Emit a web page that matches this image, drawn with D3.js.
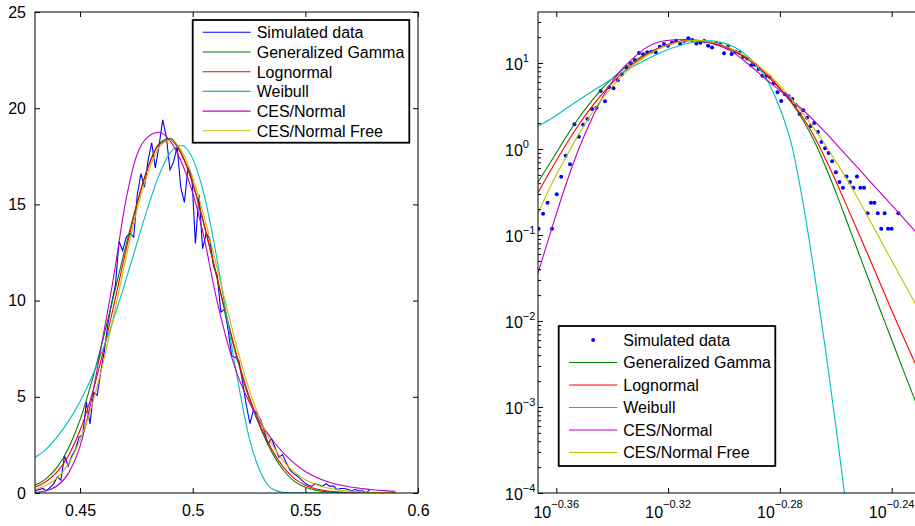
<!DOCTYPE html>
<html>
<head>
<meta charset="utf-8">
<script src="https://cdn.jsdelivr.net/npm/d3@7"></script>
<style>
body { margin: 0; background: #fff; }
svg text { font-family: "Liberation Sans", Arial, Helvetica, sans-serif; }
</style>
</head>
<body>
<svg width="915" height="526"></svg>
<script>
var width = 915;
var height = 526;

// histogram of the simulated sample: bin centres and density
var binX = [0.4302,0.4318,0.4334,0.4350,0.4367,0.4383,0.4399,0.4415,0.4431,0.4447,
    0.4463,0.4479,0.4496,0.4512,0.4528,0.4544,0.4560,0.4576,0.4592,0.4608,
    0.4625,0.4641,0.4657,0.4673,0.4689,0.4705,0.4721,0.4738,0.4754,0.4770,
    0.4786,0.4802,0.4818,0.4834,0.4850,0.4867,0.4883,0.4899,0.4915,0.4931,
    0.4947,0.4963,0.4979,0.4996,0.5012,0.5028,0.5044,0.5060,0.5076,0.5092,
    0.5109,0.5125,0.5141,0.5157,0.5173,0.5189,0.5205,0.5221,0.5238,0.5254,
    0.5270,0.5286,0.5302,0.5318,0.5334,0.5350,0.5367,0.5383,0.5399,0.5415,
    0.5431,0.5447,0.5463,0.5479,0.5496,0.5512,0.5528,0.5544,0.5560,0.5576,
    0.5592,0.5608,0.5625,0.5641,0.5657,0.5673,0.5689,0.5705,0.5721,0.5737,
    0.5754,0.5770,0.5786];
var simData = [0.118,0.177,0.237,0.118,0.297,0.476,0.836,0.664,1.94,1.39,
    1.92,2.23,2.92,3.02,4.72,3.59,5.22,5.08,6.3,7.4,
    8.91,9.92,10.8,13.07,12.6,13.3,13.5,13.3,15.5,16.6,
    15.9,17.3,18.2,16.9,18.0,19.4,18.5,16.8,17.2,18.0,
    15.9,15.1,16.9,16.5,12.97,15.5,12.7,13.5,13.2,11.8,
    11.3,9.4,9.55,8.5,7.12,7.06,6.87,5.8,4.56,3.61,
    4.33,4.13,3.81,3.22,2.55,2.82,2.31,1.85,2.0,1.58,
    1.21,1.02,0.899,0.72,0.536,0.413,0.355,0.48,0.413,0.355,
    0.48,0.355,0.355,0.179,0.237,0.237,0.179,0.118,0.179,0.118,
    0.118,0,0.179];

var fitX = [0.43,0.435,0.44,0.445,0.45,0.455,0.46,0.465,0.47,0.475,0.48,0.485,0.49,0.495,0.5,
    0.505,0.51,0.515,0.52,0.525,0.53,0.535,0.54,0.545,0.55,0.555,0.56,0.565,0.57,0.575,0.58,0.585,0.59];
var genGamma = [0.41,0.75,1.37,2.37,3.80,5.71,7.9,10.3,12.7,14.95,16.9,18.15,18.42,17.65,16.1,
    13.95,11.55,9.1,6.85,4.92,3.40,2.15,1.22,0.617,0.295,0.135,0.0617,0.0288,0.0135,0.00646,0.00309,0.00151,0.00074];
var lognormal = [0.31,0.60,1.12,1.98,3.26,5.01,7.22,9.77,12.43,14.9,16.86,18.1,18.35,17.6,16.1,
    14.0,11.62,9.2,6.97,5.05,3.51,2.29,1.38,0.76,0.40,0.204,0.105,0.0537,0.0275,0.0141,0.0074,0.00398,0.00214];
var weibull = [1.85,2.28,2.94,3.76,4.76,5.98,7.42,9.08,10.93,12.89,14.81,16.5,17.68,18.06,17.38,
    15.53,12.67,9.23,5.84,2.9,1.1,0.23,0.035,0.0045,5.0e-4,5.0e-5,5e-6,4e-7,2.5e-8,1.3e-9,5e-11,2e-12,6e-14];
var cesNormal = [0.036,0.122,0.387,1.06,2.44,4.83,8.0,11.3,15.0,17.5,18.5,18.75,18.3,17.2,15.6,
    13.3,10.4,8.0,6.1,4.75,3.67,2.82,2.11,1.55,1.12,0.81,0.59,0.427,0.313,0.229,0.168,0.123,0.090];
var cesNormalFree = [0.179,0.40,0.80,1.55,2.75,4.45,6.65,9.25,12.0,14.6,16.6,17.95,18.35,17.8,16.4,
    14.4,12.1,9.7,7.4,5.4,3.80,2.57,1.70,1.10,0.69,0.427,0.257,0.151,0.089,0.0525,0.0316,0.019,0.0115];

var seriesNames = ["Simulated data", "Generalized Gamma", "Lognormal", "Weibull", "CES/Normal", "CES/Normal Free"];
var seriesColors = ["#0000ff", "#008000", "#ff0000", "#00bfbf", "#bf00bf", "#bfbf00"];
var fits = [genGamma, lognormal, weibull, cesNormal, cesNormalFree];

// tick values and labels
var leftXTicks = [0.45, 0.5, 0.55, 0.6];
var leftXLabels = ["0.45", "0.5", "0.55", "0.6"];
var leftYTicks = [0, 5, 10, 15, 20, 25];
var rightXExps = [-0.36, -0.32, -0.28, -0.24];
var rightXLabels = ["\u22120.36", "\u22120.32", "\u22120.28", "\u22120.24"];
var rightYExps = [-4, -3, -2, -1, 0, 1];
var rightYLabels = ["\u22124", "\u22123", "\u22122", "\u22121", "0", "1"];

var svg = d3.select('svg');

// scales for both panels
var xL = d3.scaleLinear().domain([0.43, 0.6]).range([35, 418]);
var yL = d3.scaleLinear().domain([0, 25]).range([493, 12]);
var xR = d3.scaleLog().domain([0.43, 0.6]).range([538, 942.4]);
var yR = d3.scaleLog().domain([1e-4, Math.pow(10, 1.593)]).range([493, 12]);

var defs = svg.append("defs");
defs.append("clipPath").attr("id", "clip-left")
    .append("rect").attr("x", 35).attr("y", 12).attr("width", 383).attr("height", 481);
defs.append("clipPath").attr("id", "clip-right")
    .append("rect").attr("x", 538).attr("y", 12).attr("width", 405).attr("height", 481);

// ---------- left panel (linear) ----------
var plotL = svg.append("g").attr("clip-path", "url(#clip-left)");

var simLine = d3.line()
    .x(function(d) { return xL(d[0]); })
    .y(function(d) { return yL(d[1]); });
plotL.append("path")
    .datum(d3.zip(binX, simData))
    .attr("d", simLine)
    .attr("fill", "none")
    .attr("stroke", seriesColors[0])
    .attr("stroke-width", 1.1);

var fitLineL = d3.line()
    .curve(d3.curveMonotoneX)
    .x(function(d) { return xL(d[0]); })
    .y(function(d) { return yL(d[1]); });
plotL.selectAll(".fitL")
    .data(fits)
    .enter()
    .append("path")
    .attr("class", "fitL")
    .attr("d", function(f) { return fitLineL(d3.zip(fitX, f)); })
    .attr("fill", "none")
    .attr("stroke", function(f, i) { return seriesColors[i + 1]; })
    .attr("stroke-width", 1.1);

svg.append("rect")
    .attr("x", 35).attr("y", 12).attr("width", 383).attr("height", 481)
    .attr("fill", "none").attr("stroke", "#000").attr("stroke-width", 1);

// ticks point inwards on all four sides
function styleAxis(g) {
    g.select(".domain").remove();
    g.attr("font-size", 16).attr("font-family", "Liberation Sans, Arial, sans-serif");
    g.selectAll("text").attr("fill", "#000");
}
svg.append("g").attr("transform", "translate(0,493)")
    .call(d3.axisBottom(xL).tickValues(leftXTicks)
        .tickFormat(function(d, i) { return leftXLabels[i]; })
        .tickSize(-5).tickSizeOuter(0).tickPadding(12))
    .call(styleAxis);
svg.append("g").attr("transform", "translate(0,12)")
    .call(d3.axisTop(xL).tickValues(leftXTicks).tickFormat("").tickSize(-5).tickSizeOuter(0))
    .call(styleAxis);
svg.append("g").attr("transform", "translate(35,0)")
    .call(d3.axisLeft(yL).tickValues(leftYTicks).tickFormat(d3.format("d"))
        .tickSize(-5).tickSizeOuter(0).tickPadding(9))
    .call(styleAxis);
svg.append("g").attr("transform", "translate(418,0)")
    .call(d3.axisRight(yL).tickValues(leftYTicks).tickFormat("").tickSize(-5).tickSizeOuter(0))
    .call(styleAxis);

// ---------- right panel (log-log) ----------
var plotR = svg.append("g").attr("clip-path", "url(#clip-right)");

plotR.selectAll(".sim-dot")
    .data(d3.zip(binX, simData).filter(function(d) { return d[1] > 0; }))
    .enter()
    .append("circle")
    .attr("class", "sim-dot")
    .attr("cx", function(d) { return xR(d[0]); })
    .attr("cy", function(d) { return yR(d[1]); })
    .attr("r", 2)
    .attr("fill", seriesColors[0]);

var fitLineR = d3.line()
    .curve(d3.curveMonotoneX)
    .x(function(d) { return xR(d[0]); })
    .y(function(d) { return yR(d[1]); });
plotR.selectAll(".fitR")
    .data(fits)
    .enter()
    .append("path")
    .attr("class", "fitR")
    .attr("d", function(f) { return fitLineR(d3.zip(fitX, f)); })
    .attr("fill", "none")
    .attr("stroke", function(f, i) { return seriesColors[i + 1]; })
    .attr("stroke-width", 1.1);

svg.append("rect")
    .attr("x", 538).attr("y", 12).attr("width", 404.4).attr("height", 481)
    .attr("fill", "none").attr("stroke", "#000").attr("stroke-width", 1);

var rightXTicks = rightXExps.map(function(e) { return Math.pow(10, e); });
var rightYTicks = rightYExps.map(function(e) { return Math.pow(10, e); });

svg.append("g").attr("transform", "translate(0,493)")
    .call(d3.axisBottom(xR).tickValues(rightXTicks).tickFormat("").tickSize(-5).tickSizeOuter(0))
    .call(styleAxis);
svg.append("g").attr("transform", "translate(0,12)")
    .call(d3.axisTop(xR).tickValues(rightXTicks).tickFormat("").tickSize(-5).tickSizeOuter(0))
    .call(styleAxis);
svg.append("g").attr("transform", "translate(538,0)")
    .call(d3.axisLeft(yR).tickValues(rightYTicks).tickFormat("").tickSize(-5).tickSizeOuter(0))
    .call(styleAxis);

// minor log ticks on the y axis
var minorY = yR.ticks().filter(function(t) {
    return Math.abs(Math.log10(t) - Math.round(Math.log10(t))) > 1e-6;
});
svg.append("g").attr("transform", "translate(538,0)")
    .call(d3.axisLeft(yR).tickValues(minorY).tickFormat("").tickSize(-3).tickSizeOuter(0))
    .call(styleAxis);

// power-of-ten labels
var xLab = svg.selectAll(".xr-label")
    .data(rightXTicks)
    .enter()
    .append("text")
    .attr("class", "xr-label")
    .attr("x", function(d) { return xR(d); })
    .attr("y", 518)
    .attr("text-anchor", "middle")
    .attr("font-size", 16);
xLab.append("tspan").text("10");
xLab.append("tspan").attr("font-size", 11).attr("dy", -10)
    .text(function(d, i) { return rightXLabels[i]; });

var yLab = svg.selectAll(".yr-label")
    .data(rightYTicks)
    .enter()
    .append("text")
    .attr("class", "yr-label")
    .attr("x", 505)
    .attr("y", function(d) { return yR(d) + 7; })
    .attr("font-size", 16);
yLab.append("tspan").text("10");
yLab.append("tspan").attr("font-size", 11).attr("dy", -8)
    .text(function(d, i) { return rightYLabels[i]; });

// ---------- legends ----------
function drawLegend(box, rowY, rowStep, lineX1, lineX2, textX, dotFirst) {
    var g = svg.append("g");
    g.append("rect")
        .attr("x", box[0]).attr("y", box[1]).attr("width", box[2]).attr("height", box[3])
        .attr("fill", "#fff").attr("stroke", "#000").attr("stroke-width", 1.8);
    var rows = g.selectAll(".row")
        .data(seriesNames)
        .enter()
        .append("g")
        .attr("transform", function(d, i) { return "translate(0," + (rowY + i * rowStep) + ")"; });
    rows.each(function(d, i) {
        var row = d3.select(this);
        if (i == 0 && dotFirst) {
            row.append("circle").attr("cx", (lineX1 + lineX2) / 2).attr("cy", 0)
                .attr("r", 2).attr("fill", seriesColors[0]);
        } else {
            row.append("line").attr("x1", lineX1).attr("x2", lineX2)
                .attr("y1", 0).attr("y2", 0)
                .attr("stroke", seriesColors[i]).attr("stroke-width", 1.1);
        }
        row.append("text").attr("x", textX).attr("y", 5.8)
            .attr("font-size", 16).attr("fill", "#000").text(d);
    });
}
drawLegend([192.7, 20, 216.6, 122.7], 32.3, 19.7, 202.7, 250.7, 256.7, false);
drawLegend([558.7, 326, 216.6, 140], 340, 22.5, 569, 617.3, 623.3, true);
</script>
</body>
</html>
